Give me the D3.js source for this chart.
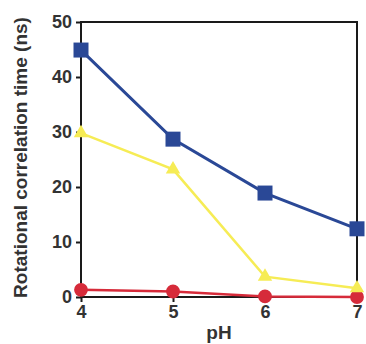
<!DOCTYPE html>
<html>
<head>
<meta charset="utf-8">
<script src="https://cdn.jsdelivr.net/npm/d3@7"></script>
<style>
  body { margin: 0; background: #fff; }
  svg { display: block; }
  text { font-family: "Liberation Sans", Arial, sans-serif; font-weight: bold; fill: #333; }
</style>
</head>
<body>
<svg width="366" height="344"></svg>
<script>
// Data
const pH = [4, 5, 6, 7];
const blueValues = [44.9, 28.7, 18.9, 12.4];
const yellowValues = [29.8, 23.2, 3.7, 1.6];
const redValues = [1.3, 1.0, 0.1, 0.0];
const yTicks = [0, 10, 20, 30, 40, 50];

const margin = { top: 22, right: 9, bottom: 47, left: 81 },
    width = 366 - margin.left - margin.right,
    height = 344 - margin.top - margin.bottom;

const svg = d3.select("svg")
    .append("g")
    .attr("transform", `translate(${margin.left},${margin.top})`);

const x = d3.scaleLinear().domain([4, 7]).range([0, width]);
const y = d3.scaleLinear().domain([0, 50]).range([height, 0]);

// Frame
svg.append("rect")
    .attr("width", width)
    .attr("height", height)
    .attr("fill", "none")
    .attr("stroke", "#1a1a1a")
    .attr("stroke-width", 2);

// Axes
const yAxis = svg.append("g")
    .call(d3.axisLeft(y).tickValues(yTicks).tickSize(5).tickPadding(4));
const xAxis = svg.append("g")
    .attr("transform", `translate(0,${height})`)
    .call(d3.axisBottom(x).tickValues(pH).tickFormat(d3.format("d")).tickSize(5).tickPadding(3));

[yAxis, xAxis].forEach(g => {
    g.select(".domain").remove();
    g.selectAll("line").attr("stroke", "#1a1a1a").attr("stroke-width", 2);
    g.selectAll("text").style("font-size", "18px").attr("fill", "#333");
});

// Axis labels
svg.append("text")
    .attr("x", width / 2)
    .attr("y", height + 42)
    .attr("text-anchor", "middle")
    .style("font-size", "19px")
    .text("pH");

svg.append("text")
    .attr("transform", "rotate(-90)")
    .attr("x", -height / 2 + 2)
    .attr("y", -margin.left + 27)
    .attr("text-anchor", "middle")
    .style("font-size", "19px")
    .text("Rotational correlation time (ns)");

// Series
const series = [
    { values: redValues, color: "#d62b3a", shape: "circle", width: 2.5 },
    { values: yellowValues, color: "#f6ec55", shape: "triangle", width: 2.5 },
    { values: blueValues, color: "#2a4896", shape: "square", width: 3 }
];

const line = d3.line()
    .x((d, i) => x(pH[i]))
    .y(d => y(d));

series.forEach(s => {
    svg.append("path")
        .datum(s.values)
        .attr("fill", "none")
        .attr("stroke", s.color)
        .attr("stroke-width", s.width)
        .attr("d", line);
});

series.forEach(s => {
    const sym = s.shape === "circle" ? d3.symbolCircle
        : s.shape === "triangle" ? d3.symbolTriangle : d3.symbolSquare;
    const size = s.shape === "circle" ? 150 : s.shape === "triangle" ? 90 : 225;
    svg.selectAll(null)
        .data(s.values)
        .join("path")
        .attr("transform", (d, i) => `translate(${x(pH[i])},${y(d)})`)
        .attr("d", d3.symbol().type(sym).size(size))
        .attr("fill", s.color);
});
</script>
</body>
</html>
